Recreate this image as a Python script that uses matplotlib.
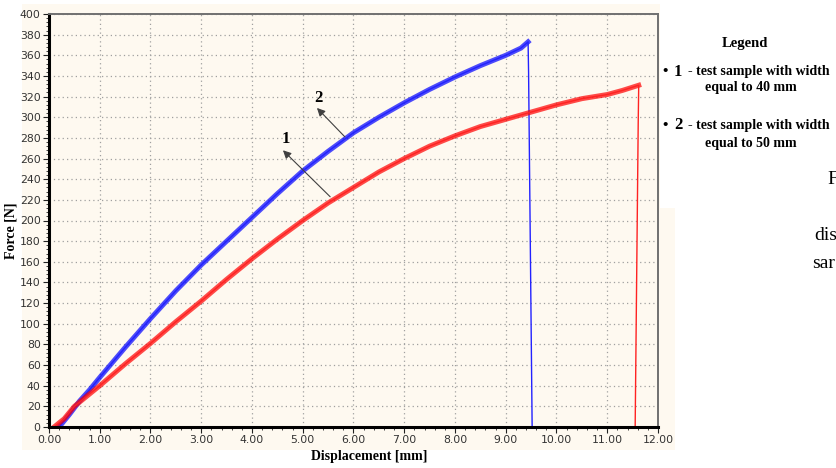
import matplotlib
matplotlib.use("Agg")
import matplotlib.pyplot as plt
from matplotlib.patches import Rectangle
from matplotlib.ticker import MultipleLocator, FormatStrFormatter

# ---- data ----
disp_2 = [0.20, 0.40, 0.60, 0.80, 1.00, 1.50, 2.00, 2.50, 3.00, 3.50, 4.00, 4.50,
          5.00, 5.50, 6.00, 6.50, 7.00, 7.50, 8.00, 8.50, 9.00, 9.30, 9.44, 9.45, 9.52]
force_2 = [0, 12, 25, 36, 48, 77, 105, 132, 157, 180, 203, 226,
           248, 267, 285, 300, 314, 327, 339, 350, 360, 367, 373, 343, 0]

disp_1 = [0.10, 0.30, 0.50, 0.75, 1.00, 1.50, 2.00, 2.50, 3.00, 3.50, 4.00, 4.50,
          5.00, 5.50, 6.00, 6.50, 7.00, 7.50, 8.00, 8.50, 9.00, 9.50, 10.00, 10.50,
          11.00, 11.30, 11.62, 11.61, 11.55]
force_1 = [0, 8, 20, 30, 40, 61, 81, 102, 122, 143, 163, 182,
           200, 217, 232, 247, 260, 272, 282, 291, 298, 305, 312, 318,
           322, 326, 331, 294, 0]

x_ticks = [0, 1, 2, 3, 4, 5, 6, 7, 8, 9, 10, 11, 12]
y_ticks = list(range(0, 401, 20))

W, H = 837, 468
fig = plt.figure(figsize=(W / 100, H / 100), dpi=100)
fig.patch.set_facecolor("white")

beige = "#FEF9F0"
# beige panel behind chart
fig.patches.append(Rectangle((22 / W, (H - 450) / H), (660 - 22) / W, (450 - 4) / H,
                             transform=fig.transFigure, facecolor=beige,
                             edgecolor="none", zorder=-10))
fig.patches.append(Rectangle((660 / W, (H - 450) / H), (675 - 660) / W, (450 - 208) / H,
                             transform=fig.transFigure, facecolor=beige,
                             edgecolor="none", zorder=-10))

ax = fig.add_axes([49 / W, (H - 427) / H, (658 - 49) / W, (427 - 14) / H])
ax.set_zorder(5)
ax.set_facecolor(beige)

# loading part drawn as a thick band, the failure drop as a thin line
ax.plot(disp_2[:-2], force_2[:-2], color="#0000FF", lw=3.6, alpha=0.7,
        solid_joinstyle="miter")
ax.plot(disp_2, force_2, color="#2222FF", lw=1.0)
ax.plot(disp_1[:-2], force_1[:-2], color="#FF0000", lw=3.6, alpha=0.7,
        solid_joinstyle="miter")
ax.plot(disp_1, force_1, color="#FF2222", lw=1.0)

ax.set_xlim(0, 12)
ax.set_ylim(0, 400)
ax.set_xticks(x_ticks)
ax.set_yticks(y_ticks)
ax.xaxis.set_major_formatter(FormatStrFormatter("%.2f"))
ax.xaxis.set_minor_locator(MultipleLocator(0.2))
ax.yaxis.set_minor_locator(MultipleLocator(4))

ax.grid(True, which="major", color="#A0A0A0", linestyle=(0, (1, 2.5)), lw=0.9)
ax.set_axisbelow(True)

for s in ("left", "bottom"):
    ax.spines[s].set_linewidth(2.2)
    ax.spines[s].set_color("black")
for s in ("top", "right"):
    ax.spines[s].set_linewidth(1.4)
    ax.spines[s].set_color("#707070")

ax.tick_params(axis="both", which="major", direction="out", length=4, width=0.8,
               colors="#222222", labelsize=7.8, pad=2)
ax.tick_params(axis="both", which="minor", direction="out", length=2.5, width=0.6,
               colors="#222222")
for lab in ax.get_xticklabels() + ax.get_yticklabels():
    lab.set_fontfamily("DejaVu Sans")
    lab.set_color("#333333")

ax.set_xlabel("Displacement [mm]", family="Liberation Serif", fontweight="bold",
              fontsize=10)
ax.set_ylabel("Force [N]", family="Liberation Serif", fontweight="bold",
              fontsize=10)
ax.xaxis.set_label_coords(0.525, -0.056)
ax.yaxis.set_label_coords(-0.051, 0.475)

arrowprops = dict(arrowstyle="-|>", color="#404040", lw=0.8,
                  mutation_scale=12, shrinkA=0, shrinkB=0)
ax.annotate("", xy=(5.28, 309), xytext=(5.83, 281), arrowprops=arrowprops)
ax.annotate("", xy=(4.61, 268), xytext=(5.54, 223), arrowprops=arrowprops)
ax.text(5.30, 319, "2", family="Liberation Serif", fontweight="bold", fontsize=12,
        ha="center", va="center")
ax.text(4.66, 279, "1", family="Liberation Serif", fontweight="bold", fontsize=12,
        ha="center", va="center")

# legend text on the right
serif = "Liberation Serif"
def ftext(px, py, s, **kw):
    fig.text(px / W, 1 - py / H, s, family=serif, **kw)

ftext(745, 44, "Legend", fontweight="bold", fontsize=10.5, ha="center", va="center")
ftext(662, 72, "\u2022", fontweight="bold", fontsize=11, va="center")
ftext(674, 72, "1", fontweight="bold", fontsize=12, va="center")
ftext(688, 72, "- test sample with width", fontweight="bold", fontsize=10, va="center")
ftext(705, 88, "equal to 40 mm", fontweight="bold", fontsize=10, va="center")
ftext(662, 125, "\u2022", fontweight="bold", fontsize=11, va="center")
ftext(674, 125, "2", fontweight="bold", fontsize=12, va="center")
ftext(688, 125, "- test sample with width", fontweight="bold", fontsize=10, va="center")
ftext(705, 143, "equal to 50 mm", fontweight="bold", fontsize=10, va="center")

ftext(827, 179, "F", fontsize=14, va="center")
ftext(814, 236, "dis", fontsize=14, va="center")
ftext(812, 264, "sar", fontsize=14, va="center")

fig.savefig("out.png", dpi=100, facecolor="white")
